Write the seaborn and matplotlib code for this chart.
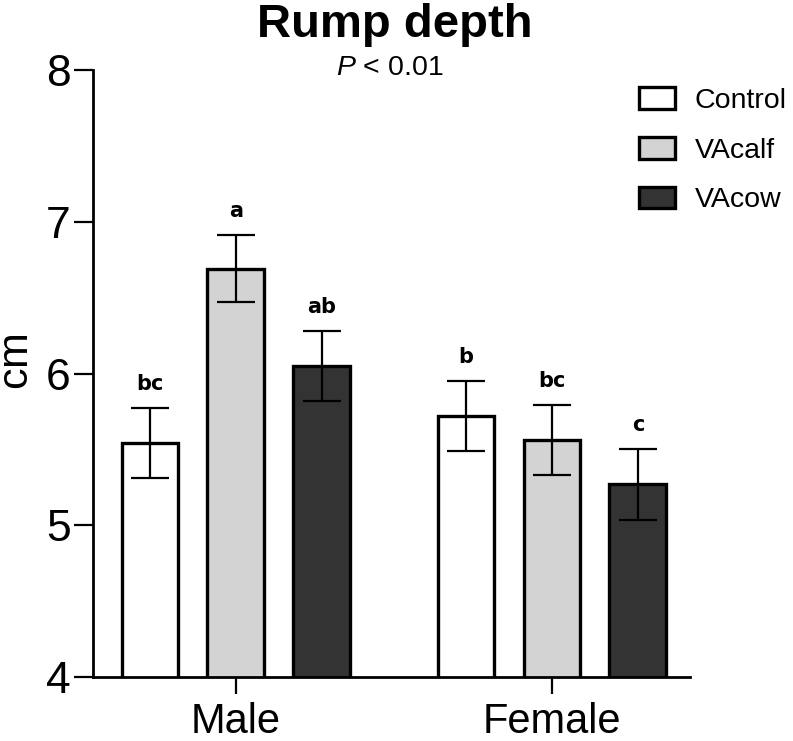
import matplotlib
matplotlib.use("Agg")
import matplotlib.pyplot as plt
import seaborn as sns
import pandas as pd
import numpy as np

# ---- data ----
sexes = ["Male", "Female"]
groups = ["Control", "VAcalf", "VAcow"]
means_male = [5.54, 6.69, 6.05]
means_female = [5.72, 5.56, 5.27]
se_male = [0.23, 0.22, 0.23]
se_female = [0.23, 0.23, 0.235]
letters_male = ["bc", "a", "ab"]
letters_female = ["b", "bc", "c"]
colors = {"Control": "#ffffff", "VAcalf": "#d3d3d3", "VAcow": "#333333"}

rows = []
for s, ms, es, ls in [("Male", means_male, se_male, letters_male),
                      ("Female", means_female, se_female, letters_female)]:
    for g, m, e, l in zip(groups, ms, es, ls):
        rows.append({"sex": s, "group": g, "value": m, "se": e, "letter": l})
df = pd.DataFrame(rows)

sns.set_style("ticks")
plt.rcParams["font.family"] = ["Liberation Sans", "DejaVu Sans"]
for k in ["text.color", "axes.labelcolor", "xtick.color", "ytick.color", "axes.edgecolor"]:
    plt.rcParams[k] = "black"
plt.rcParams["mathtext.fontset"] = "custom"
plt.rcParams["mathtext.it"] = "Liberation Sans:italic"
plt.rcParams["mathtext.rm"] = "Liberation Sans"

fig = plt.figure(figsize=(7.93, 7.41), dpi=100)
ax = fig.add_axes([93 / 793, 1 - 677 / 741, (690 - 93) / 793, (677 - 70) / 741])

sns.barplot(data=df, x="sex", y="value", hue="group", order=sexes,
            hue_order=groups, palette=colors, edgecolor="black",
            linewidth=2.4, errorbar=None, width=0.816, gap=0.34, ax=ax)

for cont, g in zip(ax.containers, groups):
    for bar, s in zip(cont, sexes):
        row = df[(df.sex == s) & (df.group == g)].iloc[0]
        xc = bar.get_x() + bar.get_width() / 2
        ax.errorbar(xc, row.value, yerr=row.se, fmt="none", ecolor="black",
                    elinewidth=1.6, capsize=14, capthick=1.6, zorder=5)
        ax.annotate(row.letter, (xc, row.value + row.se), xytext=(0, 13),
                    textcoords="offset points", ha="center", va="baseline",
                    fontsize=15, fontweight="heavy", family=["DejaVu Sans"])

ax.set_ylim(4, 8)
ax.set_xlim(-0.452, 1.437)
ax.set_yticks([4, 5, 6, 7, 8])
ax.set_ylabel("")
ax.set_xlabel("")
ax.tick_params(axis="y", labelsize=32, width=1.6, length=14, pad=2)
ax.tick_params(axis="x", labelsize=30, width=1.6, length=12, pad=6)
for sp in ["top", "right"]:
    ax.spines[sp].set_visible(False)
for sp in ["left", "bottom"]:
    ax.spines[sp].set_linewidth(2.0)

fig.text(17 / 793, 1 - 362 / 741, r"$\mathrm{cm}$", rotation=90, ha="center",
         va="center", fontsize=31)

handles, labels = ax.get_legend_handles_labels()
ax.legend(handles, labels, loc="upper left", bbox_to_anchor=(628 / 793, 1 - 76 / 741),
          bbox_transform=fig.transFigure, frameon=False, fontsize=20.5,
          handlelength=1.25, handleheight=0.8, labelspacing=0.8, handletextpad=0.7,
          borderaxespad=0)

fig.text(395 / 793, 1 - 37 / 741, "Rump depth", ha="center", va="baseline",
         fontsize=34, fontweight="bold")
fig.text(390 / 793, 1 - 75 / 741, r"$\mathit{P}$ < 0.01", ha="center", va="baseline",
         fontsize=20.5)

fig.savefig("out.png", dpi=100)
